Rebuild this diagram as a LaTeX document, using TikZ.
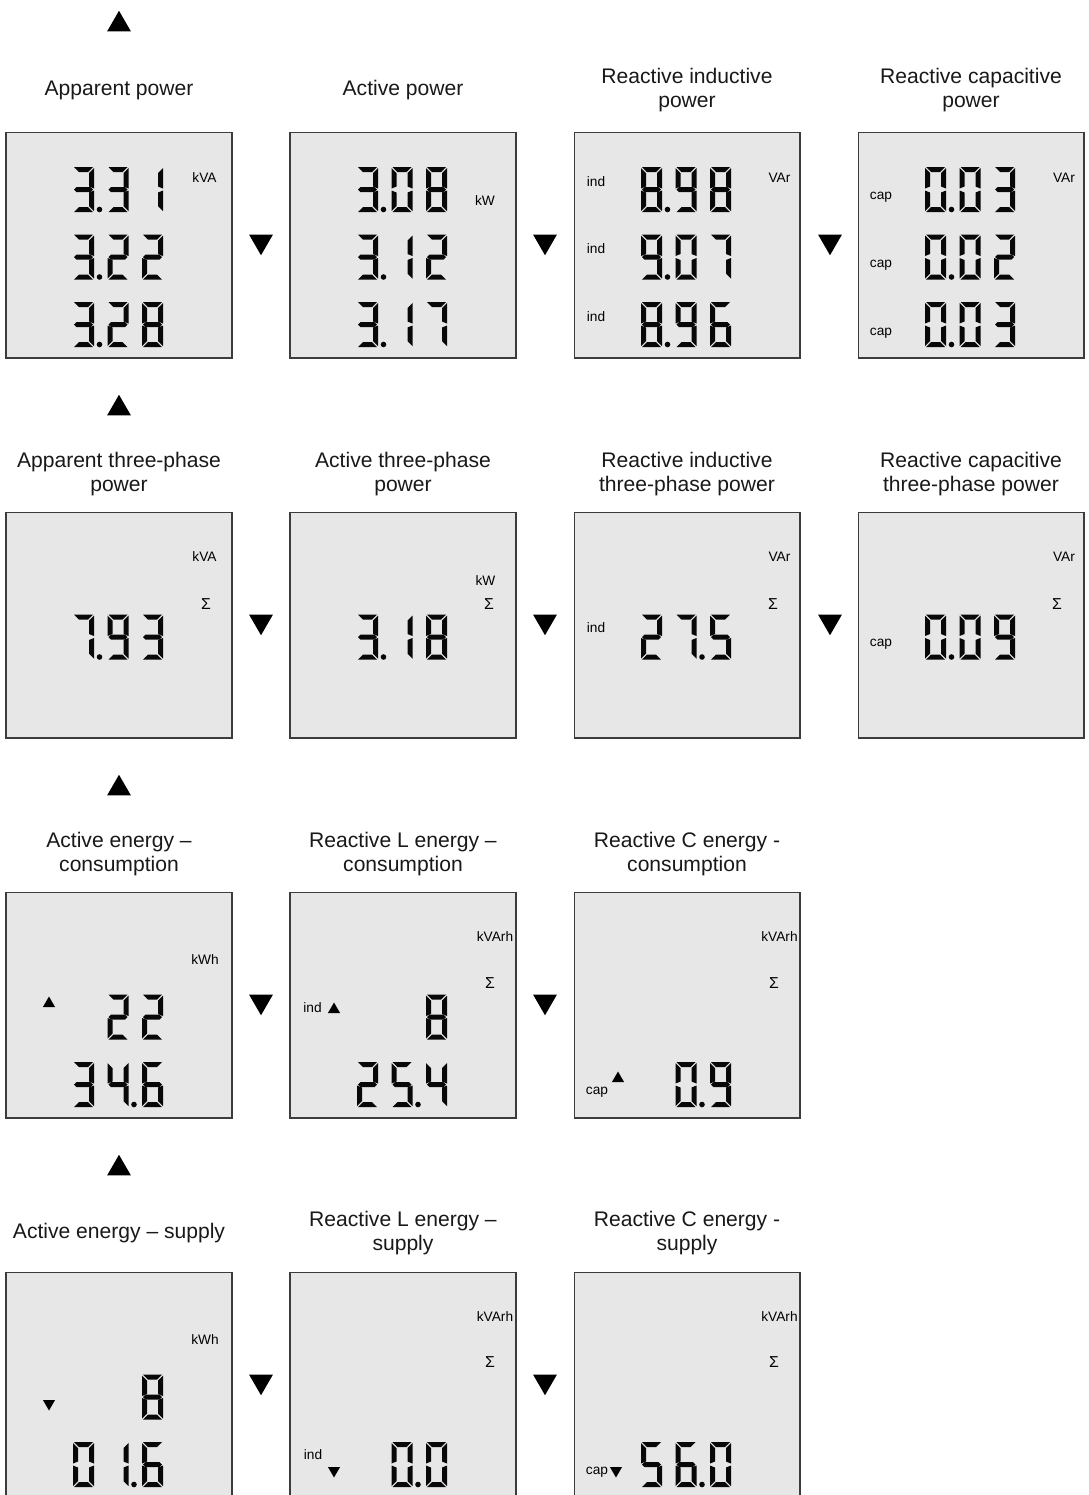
\documentclass[tikz,border=0pt]{standalone}
\usepackage{fontspec}
\setmainfont{Liberation Sans}
\usetikzlibrary{shapes.geometric}
\definecolor{lcdgray}{RGB}{231,231,231}
\definecolor{lcdframe}{RGB}{60,60,60}
\definecolor{lcdink}{RGB}{8,8,8}

% seven-segment pieces, local units in px, y downwards (cell 21 x 45)
\newcommand{\segA}{\fill[lcdink] (1,0) -- (20,0) -- (15,5) -- (6,5) -- cycle;}
\newcommand{\segB}{\fill[lcdink] (21,1) -- (21,21.5) -- (16,19.5) -- (16,6) -- cycle;}
\newcommand{\segC}{\fill[lcdink] (21,23.5) -- (21,44) -- (16,39) -- (16,25.5) -- cycle;}
\newcommand{\segD}{\fill[lcdink] (1,45) -- (20,45) -- (15,40) -- (6,40) -- cycle;}
\newcommand{\segE}{\fill[lcdink] (0,23.5) -- (0,44) -- (5,39) -- (5,25.5) -- cycle;}
\newcommand{\segF}{\fill[lcdink] (0,1) -- (0,21.5) -- (5,19.5) -- (5,6) -- cycle;}
\newcommand{\segG}{\fill[lcdink] (1,22.5) -- (3.5,20) -- (17.5,20) -- (20,22.5) -- (17.5,25) -- (3.5,25) -- cycle;}
\newcommand{\lcdglyph}[1]{\ifcase#1\relax
  \segA\segB\segC\segD\segE\segF\or
  \segB\segC\or
  \segA\segB\segG\segE\segD\or
  \segA\segB\segG\segC\segD\or
  \segF\segG\segB\segC\or
  \segA\segF\segG\segC\segD\or
  \segA\segF\segG\segE\segC\segD\or
  \segA\segB\segC\or
  \segA\segB\segC\segD\segE\segF\segG\or
  \segA\segB\segC\segD\segF\segG\fi}
% one display line: panel left, line top, col/digit list, dot after col (0 = none)
\newcommand{\lcdline}[4]{%
  \foreach \k/\d in {#3} {\pic at ({#1+67+(\k-1)*34.5},#2) {lcd=\d};}
  \ifnum#4>0 \fill[lcdink] ({#1+93.5+(#4-1)*34.5},{#2+42.5}) circle (2.8);\fi}

\tikzset{
  panel/.style={draw=lcdframe, line width=0.6pt, fill=lcdgray, minimum size=4.52cm, inner sep=0pt},
  title/.style={font=\fontsize{12}{13.7}\selectfont, align=center, text=black!90},
  unit/.style={font=\fontsize{7.8}{9}\selectfont, inner sep=0pt},
  sigma/.style={unit, font=\fontsize{9}{10}\selectfont},
  uptri/.style={regular polygon, regular polygon sides=3, fill=black, inner sep=0pt, minimum size=0.55cm},
  downtri/.style={uptri, shape border rotate=180},
  smalluptri/.style={uptri, minimum size=0.28cm},
  smalldowntri/.style={downtri, minimum size=0.28cm},
  pics/lcd/.style={code={\lcdglyph{#1}}},
}

\begin{document}
\begin{tikzpicture}[x=0.02cm, y=-0.02cm]
  \clip (0,0) rectangle (1089,1495);
  \fill[white] (0,0) rectangle (1089,1495);

  % display panels
  \foreach \n/\x/\y in {11/119/245, 12/403/245, 13/687/245, 14/971/245,
                        21/119/625, 22/403/625, 23/687/625, 24/971/625,
                        31/119/1005, 32/403/1005, 33/687/1005,
                        41/119/1385, 42/403/1385, 43/687/1385}
    \node[panel] (p\n) at (\x,\y) {};

  % titles
  \node[title] (t11) at (119,90) {Apparent power};
  \node[title] (t12) at (403,90) {Active power};
  \node[title] (t13) at (687,90) {Reactive inductive\\power};
  \node[title] (t14) at (971,90) {Reactive capacitive\\power};
  \node[title] (t21) at (119,474) {Apparent three-phase\\power};
  \node[title] (t22) at (403,474) {Active three-phase\\power};
  \node[title] (t23) at (687,474) {Reactive inductive\\three-phase power};
  \node[title] (t24) at (971,474) {Reactive capacitive\\three-phase power};
  \node[title] (t31) at (119,854) {Active energy –\\consumption};
  \node[title] (t32) at (403,854) {Reactive L energy –\\consumption};
  \node[title] (t33) at (687,854) {Reactive C energy -\\consumption};
  \node[title] (t41) at (119,1233) {Active energy – supply};
  \node[title] (t42) at (403,1233) {Reactive L energy –\\supply};
  \node[title] (t43) at (687,1233) {Reactive C energy -\\supply};

  % key arrows
  \foreach \n/\y in {1/24.5, 2/408.5, 3/788.5, 4/1168.5}
    \node[uptri] (up\n) at (119,\y) {};
  \foreach \n/\x/\y in {11/261/241.5, 12/545/241.5, 13/830/241.5,
                        21/261/621.5, 22/545/621.5, 23/830/621.5,
                        31/261/1001.5, 32/545/1001.5,
                        41/261/1381.5, 42/545/1381.5}
    \node[downtri] (dn\n) at (\x,\y) {};

  % row 1
  \lcdline{6}{167}{1/3,2/3,3/1}{1}
  \lcdline{6}{234.5}{1/3,2/2,3/2}{1}
  \lcdline{6}{302}{1/3,2/2,3/8}{1}
  \node[unit] (u11) at (204.5,178) {kVA};
  \lcdline{290}{167}{1/3,2/0,3/8}{1}
  \lcdline{290}{234.5}{1/3,2/1,3/2}{1}
  \lcdline{290}{302}{1/3,2/1,3/7}{1}
  \node[unit] (u12) at (485,201) {kW};
  \lcdline{574}{167}{1/8,2/9,3/8}{1}
  \lcdline{574}{234.5}{1/9,2/0,3/7}{1}
  \lcdline{574}{302}{1/8,2/9,3/6}{1}
  \node[unit] (u13) at (779.5,178) {VAr};
  \foreach \i/\y in {1/182, 2/249, 3/317}
    \node[unit] (i13\i) at (596,\y) {ind};
  \lcdline{858}{167}{1/0,2/0,3/3}{1}
  \lcdline{858}{234.5}{1/0,2/0,3/2}{1}
  \lcdline{858}{302}{1/0,2/0,3/3}{1}
  \node[unit] (u14) at (1064,178) {VAr};
  \foreach \i/\y in {1/197, 2/265, 3/333}
    \node[unit] (c14\i) at (881,\y) {cap};

  % row 2
  \lcdline{6}{614.5}{1/7,2/9,3/3}{1}
  \node[unit] (u21) at (204.5,557) {kVA};
  \node[sigma] (s21) at (206,604) {Σ};
  \lcdline{290}{614.5}{1/3,2/1,3/8}{1}
  \node[unit] (u22) at (485.5,581) {kW};
  \node[sigma] (s22) at (489,604) {Σ};
  \lcdline{574}{614.5}{1/2,2/7,3/5}{2}
  \node[unit] (u23) at (779.5,557) {VAr};
  \node[sigma] (s23) at (773,604) {Σ};
  \node[unit] (i23) at (596,628) {ind};
  \lcdline{858}{614.5}{1/0,2/0,3/9}{1}
  \node[unit] (u24) at (1064,557) {VAr};
  \node[sigma] (s24) at (1057,604) {Σ};
  \node[unit] (c24) at (881,644) {cap};

  % row 3
  \lcdline{6}{994.5}{2/2,3/2}{0}
  \lcdline{6}{1062}{1/3,2/4,3/6}{2}
  \node[unit] (u31) at (205,960) {kWh};
  \node[smalluptri] (a31) at (49,1003.5) {};
  \lcdline{290}{994.5}{3/8}{0}
  \lcdline{290}{1062}{1/2,2/5,3/4}{2}
  \node[unit] (u32) at (495,937) {kVArh};
  \node[sigma] (s32) at (490,983) {Σ};
  \node[unit] (i32) at (312.5,1008) {ind};
  \node[smalluptri] (a32) at (334,1009.5) {};
  \lcdline{574}{1062}{2/0,3/9}{2}
  \node[unit] (u33) at (779.5,937) {kVArh};
  \node[sigma] (s33) at (774,983) {Σ};
  \node[unit] (c33) at (597,1092) {cap};
  \node[smalluptri] (a33) at (618,1078.5) {};

  % row 4
  \lcdline{6}{1374.5}{3/8}{0}
  \lcdline{6}{1442}{1/0,2/1,3/6}{2}
  \node[unit] (u41) at (205,1340) {kWh};
  \node[smalldowntri] (a41) at (49,1403.5) {};
  \lcdline{290}{1442}{2/0,3/0}{2}
  \node[unit] (u42) at (495,1317) {kVArh};
  \node[sigma] (s42) at (490,1362) {Σ};
  \node[unit] (i42) at (313,1455) {ind};
  \node[smalldowntri] (a42) at (334,1470.5) {};
  \lcdline{574}{1442}{1/5,2/6,3/0}{2}
  \node[unit] (u43) at (779.5,1317) {kVArh};
  \node[sigma] (s43) at (774,1362) {Σ};
  \node[unit] (c43) at (597,1472) {cap};
  \node[smalldowntri] (a43) at (616,1470.5) {};
\end{tikzpicture}
\end{document}
